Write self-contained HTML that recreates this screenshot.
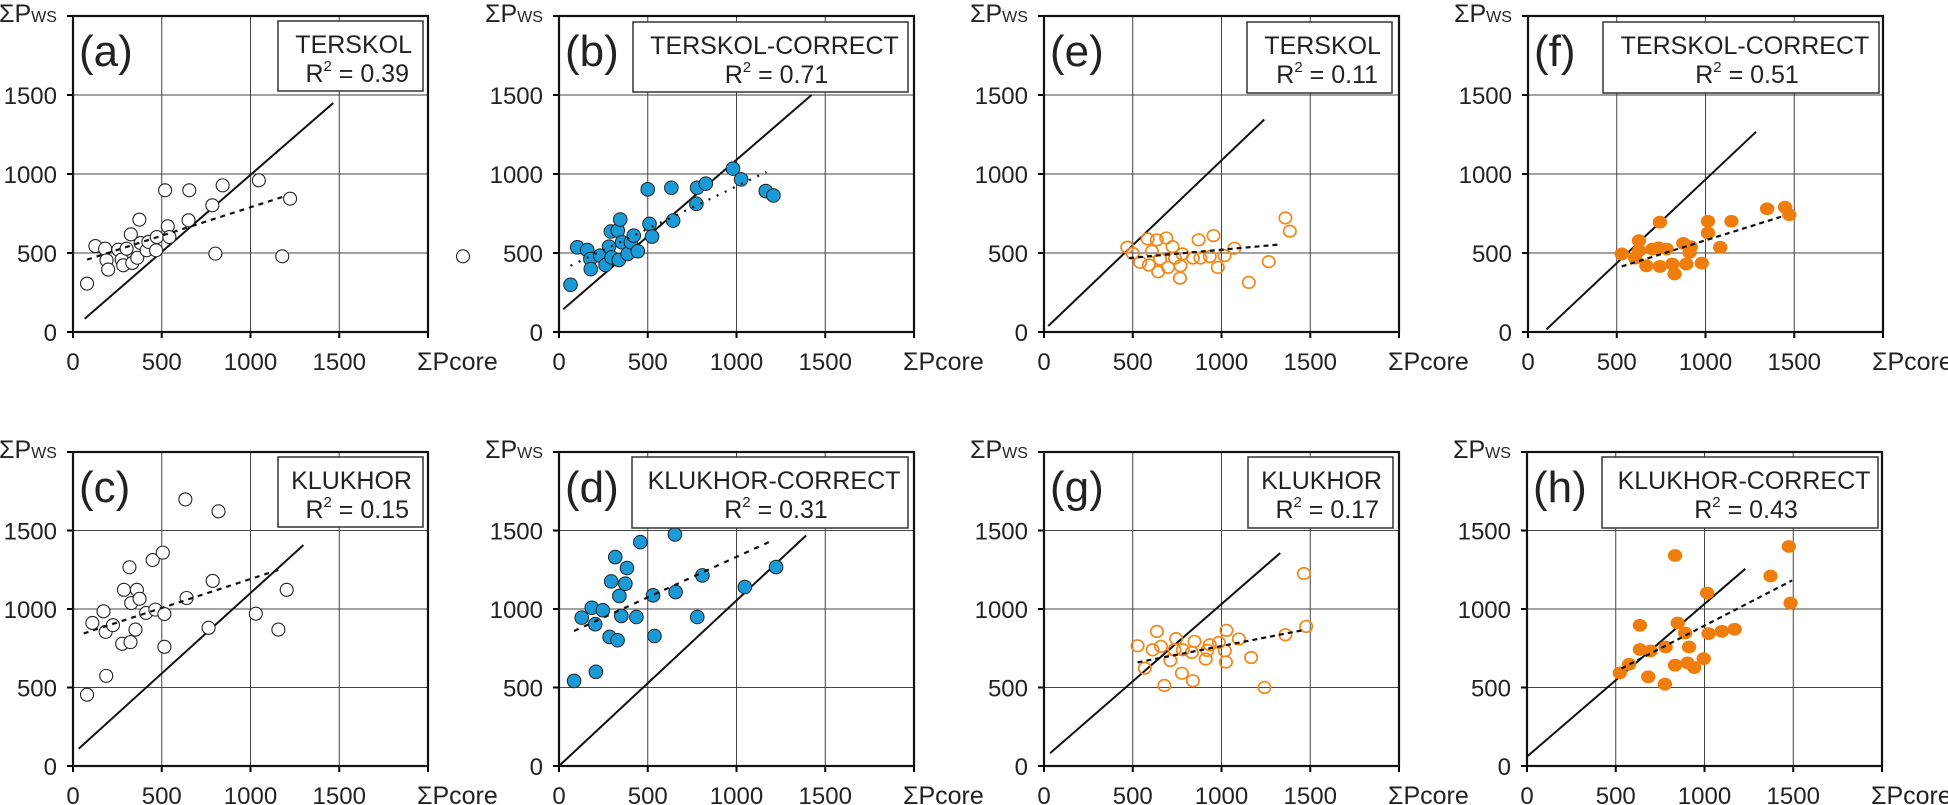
<!DOCTYPE html>
<html><head><meta charset="utf-8">
<style>
html,body{margin:0;padding:0;background:#fff;}
svg{display:block;font-family:"Liberation Sans",Arial,sans-serif;}
</style></head>
<body>
<svg id="fig" width="1948" height="805" viewBox="0 0 1948 805" xmlns="http://www.w3.org/2000/svg"></svg>
<script>
// ---- data (ΣPcore, ΣPws) ----
const aX=[79,126,181,189,198,255,274,283,302,326,334,362,374,381,415,425,472,468,519,534,543,655,651,785,802,843,1047,1179,1223,2197];
const aY=[306,544,527,454,395,521,458,422,527,618,437,470,711,563,517,570,601,517,897,669,601,897,707,802,496,928,960,479,844,479];
const aTrend=[79,458,1179,854]; const aIdent=[66,84,1466,1449];
const bX=[65,103,159,177,179,232,262,282,292,296,331,345,355,337,387,405,421,444,500,510,524,633,643,774,778,827,980,1026,1165,1208];
const bY=[299,536,519,462,398,483,424,540,636,472,642,712,568,456,494,568,610,511,903,684,604,913,705,811,913,939,1034,966,892,864];
const bTrend=[65,419,1169,1013]; const bIdent=[24,144,1423,1500];
const eX=[469,500,542,584,591,608,636,643,654,689,699,724,738,769,766,780,839,871,881,934,955,979,1017,1073,1266,1154,1360,1385];
const eY=[536,498,441,589,424,511,583,381,462,595,409,540,468,419,341,494,468,583,468,477,610,409,483,530,445,314,722,638];
const eTrend=[479,468,1318,553]; const eIdent=[24,38,1241,1345];
const fX=[528,604,625,625,667,701,736,743,781,743,813,826,875,892,910,917,979,1014,1014,1083,1146,1347,1448,1472];
const fY=[494,468,578,515,419,525,532,415,525,695,430,367,561,430,504,540,436,701,627,536,701,780,790,742];
const fTrend=[528,415,1448,737]; const fIdent=[104,17,1285,1267];
const cX=[79,109,172,184,225,187,277,287,318,324,328,352,360,375,412,449,464,506,515,515,633,640,764,787,820,1030,1157,1204];
const cY=[454,911,985,854,897,574,778,1122,1266,789,1038,869,1122,1065,975,1312,996,1359,968,759,1698,1070,880,1179,1622,970,869,1122];
const cTrend=[60,844,1157,1249]; const cIdent=[32,110,1298,1407];
const dX=[85,128,185,204,208,247,285,294,317,330,340,351,374,383,436,458,530,538,653,657,779,808,1047,1223];
const dY=[542,945,1008,903,600,992,822,1176,1331,801,1083,956,1161,1261,949,1426,1087,828,1475,1108,949,1214,1140,1267];
const dTrend=[85,860,1194,1432]; const dIdent=[0,0,1392,1468];
const gX=[527,568,612,636,659,678,712,735,744,777,782,833,839,848,911,920,934,985,1019,1025,1028,1098,1167,1242,1360,1464,1477];
const gY=[766,623,740,857,762,513,672,740,811,591,740,723,543,794,681,736,772,787,734,662,864,809,691,500,836,1226,889];
const gTrend=[527,660,1473,868]; const gIdent=[34,81,1331,1357];
const hX=[523,575,636,636,683,696,777,781,834,834,849,891,904,913,942,996,1015,1023,1098,1170,1372,1475,1485];
const hY=[593,648,896,742,568,733,521,758,1341,642,911,847,657,758,627,684,1102,843,858,871,1210,1398,1038];
const hTrend=[532,621,1494,1182]; const hIdent=[4,64,1230,1256];
const ticks=[0,500,1000,1500];
const tickLabels=["0","500","1000","1500"];

const NS="http://www.w3.org/2000/svg";
const svg=document.getElementById('fig');
function mk(tag,attrs,parent){const e=document.createElementNS(NS,tag);for(const k in attrs)e.setAttribute(k,attrs[k]);(parent||svg).appendChild(e);return e;}

const panels=[
 {id:'a',L:73,T:16,B:332,X:aX,Y:aY,tr:aTrend,id1:aIdent,style:'openK',dash:'5,5',title:'TERSKOL',r2:'0.39',box:[278,21,423,91],center:false},
 {id:'b',L:559,T:16,B:332,X:bX,Y:bY,tr:bTrend,id1:bIdent,style:'blue',dash:'2,7',title:'TERSKOL-CORRECT',r2:'0.71',box:[633,22,908,92],center:true},
 {id:'e',L:1044,T:16,B:332,X:eX,Y:eY,tr:eTrend,id1:eIdent,style:'openO',dash:'5,4',title:'TERSKOL',r2:'0.11',box:[1247,22,1392,93],center:false},
 {id:'f',L:1528,T:16,B:332,X:fX,Y:fY,tr:fTrend,id1:fIdent,style:'fillO',dash:'5,4',title:'TERSKOL-CORRECT',r2:'0.51',box:[1603,22,1879,93],center:true},
 {id:'c',L:73,T:452,B:766,X:cX,Y:cY,tr:cTrend,id1:cIdent,style:'openK',dash:'5,5',title:'KLUKHOR',r2:'0.15',box:[278,457,423,527],center:false},
 {id:'d',L:559,T:452,B:766,X:dX,Y:dY,tr:dTrend,id1:dIdent,style:'blue',dash:'5,6',title:'KLUKHOR-CORRECT',r2:'0.31',box:[632,457,908,528],center:true},
 {id:'g',L:1044,T:452,B:766,X:gX,Y:gY,tr:gTrend,id1:gIdent,style:'openO',dash:'5,4',title:'KLUKHOR',r2:'0.17',box:[1248,457,1393,528],center:false},
 {id:'h',L:1527,T:452,B:766,X:hX,Y:hY,tr:hTrend,id1:hIdent,style:'fillO',dash:'5,4',title:'KLUKHOR-CORRECT',r2:'0.43',box:[1602,457,1878,528],center:true}
];
const W=355;
panels.forEach(p=>{
  const g=mk('g',{});
  
  
  const sx=v=>p.L+v/2000*W;
  const sy=v=>p.B-v/2000*(p.B-p.T);
  ticks.forEach((t,i)=>{
    if(t>0){
      const vl=mk('line',{x1:sx(t),y1:p.T,x2:sx(t),y2:p.B,stroke:'#444','stroke-width':1},g);
      
      
      const hl=mk('line',{x1:p.L,y1:sy(t),x2:p.L+W,y2:sy(t),stroke:'#444','stroke-width':1},g);
      
      
    }
    const yt=mk('line',{x1:p.L-6,y1:sy(t),x2:p.L,y2:sy(t),stroke:'#000','stroke-width':2},g);
    
    
    const xt=mk('line',{x1:sx(t),y1:p.B,x2:sx(t),y2:p.B+6,stroke:'#000','stroke-width':2},g);
    
    
    const yl=mk('text',{x:p.L-16,y:sy(t)+9,'font-size':24,'text-anchor':'end',fill:'#222'},g);
    yl.textContent=tickLabels[i];
    
    
    const xl=mk('text',{x:sx(t),y:p.B+38,'font-size':24,'text-anchor':'middle',fill:'#222'},g);
    xl.textContent=tickLabels[i];
    
    
  });
  const xe=mk('line',{x1:p.L+W,y1:p.B,x2:p.L+W,y2:p.B+6,stroke:'#000','stroke-width':2},g);
  
  
  const ye=mk('line',{x1:p.L-6,y1:p.T,x2:p.L,y2:p.T,stroke:'#000','stroke-width':2},g);
  
  
  const fr=mk('rect',{x:p.L,y:p.T,width:W,height:p.B-p.T,fill:'none',stroke:'#111','stroke-width':2.2},g);
  
  
  const yt=mk('text',{x:p.L-74,y:p.T+6,'font-size':25,fill:'#222'},g);
  yt.innerHTML='ΣP<tspan font-size="16">WS</tspan>';
  
  
  const xt=mk('text',{x:p.L+W-11,y:p.B+38,'font-size':25,fill:'#222'},g);
  xt.textContent='ΣPcore';
  
  
  const pl=mk('text',{x:p.L+6,y:p.T+50,'font-size':44,fill:'#222'},g);
  pl.textContent='('+p.id+')';
  
  
  const il=mk('line',{x1:sx(p.id1[0]),y1:sy(p.id1[1]),x2:sx(p.id1[2]),y2:sy(p.id1[3]),stroke:'#111','stroke-width':2},g);
  
  
  p.X.forEach((xv,i)=>{
    let c;
    if(p.style==='openK') c=mk('circle',{cx:sx(xv),cy:sy(p.Y[i]),r:6.5,fill:'#fff',stroke:'#222','stroke-width':1.1},g);
    else if(p.style==='blue') c=mk('circle',{cx:sx(xv),cy:sy(p.Y[i]),r:6.8,fill:'#1b9ad8',stroke:'#222','stroke-width':1},g);
    else if(p.style==='openO') c=mk('ellipse',{cx:sx(xv),cy:sy(p.Y[i]),rx:6.2,ry:5.8,fill:'none',stroke:'#f2881c','stroke-width':1.7},g);
    else c=mk('ellipse',{cx:sx(xv),cy:sy(p.Y[i]),rx:7.2,ry:6.4,fill:'#ee7d0c'},g);
    
    
  });
  const tl=mk('line',{x1:sx(p.tr[0]),y1:sy(p.tr[1]),x2:sx(p.tr[2]),y2:sy(p.tr[3]),stroke:'#111','stroke-width':2.2,'stroke-dasharray':p.dash},g);
  
  
  const b=p.box;
  const lb=mk('rect',{x:b[0],y:b[1],width:b[2]-b[0],height:b[3]-b[1],fill:'#fff',stroke:'#333','stroke-width':1.5},g);
  
  
  const t1=mk('text',{x:p.center?(b[0]+b[2])/2+4:b[2]-11,y:b[1]+32,'font-size':25,'text-anchor':p.center?'middle':'end',fill:'#222'},g);
  t1.textContent=p.title;
  
  
  const t2=mk('text',{x:p.center?(b[0]+b[2])/2+6:b[2]-14,y:b[1]+61,'font-size':25,'text-anchor':p.center?'middle':'end',fill:'#222'},g);
  t2.innerHTML='R<tspan font-size="15" dy="-11">2</tspan><tspan dy="11"> = '+p.r2+'</tspan>';
  
  
});
</script>
</body></html>
